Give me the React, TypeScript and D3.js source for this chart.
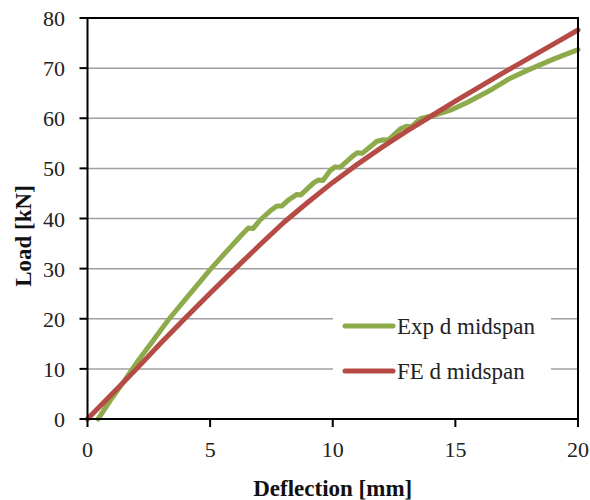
import React from "react";
import * as d3 from "d3";

const expX = [0.43, 1.0, 1.5, 2.06, 2.55, 3.3, 4.1, 5.0, 5.7, 6.3, 6.56, 6.75, 7.04, 7.5, 7.72, 7.93, 8.2, 8.54, 8.7, 9.22, 9.42, 9.6, 9.9, 10.1, 10.3, 10.8, 11.0, 11.2, 11.8, 12.07, 12.25, 12.76, 13.0, 13.2, 13.57, 13.8, 14.1, 14.8, 15.5, 16.5, 17.24, 18.0, 19.0, 20.0];
const expY = [0, 4.2, 7.6, 11.6, 14.8, 19.8, 24.5, 29.8, 33.6, 36.8, 38.1, 38.0, 39.7, 41.7, 42.5, 42.5, 43.7, 44.8, 44.7, 47.1, 47.7, 47.6, 49.6, 50.3, 50.2, 52.4, 53.1, 53.0, 55.4, 55.7, 55.6, 57.9, 58.4, 58.3, 59.9, 60.2, 60.5, 61.6, 63.2, 65.8, 68.0, 69.7, 71.8, 73.7];
const feX = [0, 1, 2, 3, 4, 5, 6, 7, 8, 9, 10, 11, 12, 13, 14, 15, 16, 17, 18, 19, 20];
const feY = [0, 5, 10, 15.2, 20.2, 25.1, 29.9, 34.6, 39.2, 43.3, 47.2, 50.8, 54.2, 57.4, 60.4, 63.4, 66.3, 69.2, 72.0, 74.8, 77.6];
const xTicks = [0, 5, 10, 15, 20];
const yTicks = [0, 10, 20, 30, 40, 50, 60, 70, 80];
const seriesNames = ["Exp d midspan", "FE d midspan"];
const seriesColors = ["#8eab4b", "#b54b44"];

const FONT = "'Liberation Serif', 'Times New Roman', serif";

export default function App() {
  const left = 87.5, right = 578, top = 18, bottom = 419;
  const x = d3.scaleLinear().domain([0, 20]).range([left, right]);
  const y = d3.scaleLinear().domain([0, 80]).range([bottom, top]);
  const line = d3.line<[number, number]>().x(d => x(d[0])).y(d => y(d[1]));
  const expPts = expX.map((v, i) => [v, expY[i]] as [number, number]);
  const fePts = feX.map((v, i) => [v, feY[i]] as [number, number]);
  const series = [expPts, fePts];

  const legX = 333, legY = 300, legW = 218, legH = 92;
  const ts = { fontFamily: FONT, fontWeight: 400 as const };
  const tb = { fontFamily: FONT, fontWeight: 700 as const };

  return (
    <svg width={590} height={500} style={{ position: "absolute", left: 0, top: 0, background: "#fff" }}>
      <rect x={0} y={0} width={590} height={500} fill="#fff" />
      {yTicks.filter(t => t > 0 && t < 80).map(t => (
        <line key={"g" + t} x1={left} x2={right} y1={y(t)} y2={y(t)} stroke="#a0a0a0" strokeWidth={1.5} />
      ))}
      <rect x={legX} y={legY} width={legW} height={legH} fill="#fff" />
      {series.map((pts, i) => (
        <path key={"s" + i} d={line(pts) || ""} fill="none" stroke={seriesColors[i]} strokeWidth={5} strokeLinejoin="round" strokeLinecap="round" />
      ))}
      <rect x={left} y={top} width={right - left} height={bottom - top} fill="none" stroke="#000" strokeWidth={2} />
      {yTicks.map(t => (
        <g key={"yt" + t}>
          <line x1={left - 8} x2={left} y1={y(t)} y2={y(t)} stroke="#000" strokeWidth={2} />
          <text style={ts} x={65} y={y(t) + 8} textAnchor="end" fontSize={22} fill="#222">{t}</text>
        </g>
      ))}
      {xTicks.map(t => (
        <g key={"xt" + t}>
          <line x1={x(t)} x2={x(t)} y1={bottom} y2={bottom + 8} stroke="#000" strokeWidth={2} />
          <text style={ts} x={x(t)} y={457} textAnchor="middle" fontSize={22} fill="#222">{t}</text>
        </g>
      ))}
      <text style={tb} x={(left + right) / 2} y={496} textAnchor="middle" fontSize={23} fill="#111">Deflection [mm]</text>
      <text style={tb} transform={`translate(31, 236) rotate(-90)`} textAnchor="middle" fontSize={23} fill="#111">Load [kN]</text>
      {seriesNames.map((n, i) => (
        <g key={"l" + i}>
          <line x1={345} x2={393} y1={326 + i * 45} y2={326 + i * 45} stroke={seriesColors[i]} strokeWidth={5} strokeLinecap="round" />
          <text style={ts} x={397} y={326 + i * 45 + 8} fontSize={23} fill="#222">{n}</text>
        </g>
      ))}
    </svg>
  );
}
